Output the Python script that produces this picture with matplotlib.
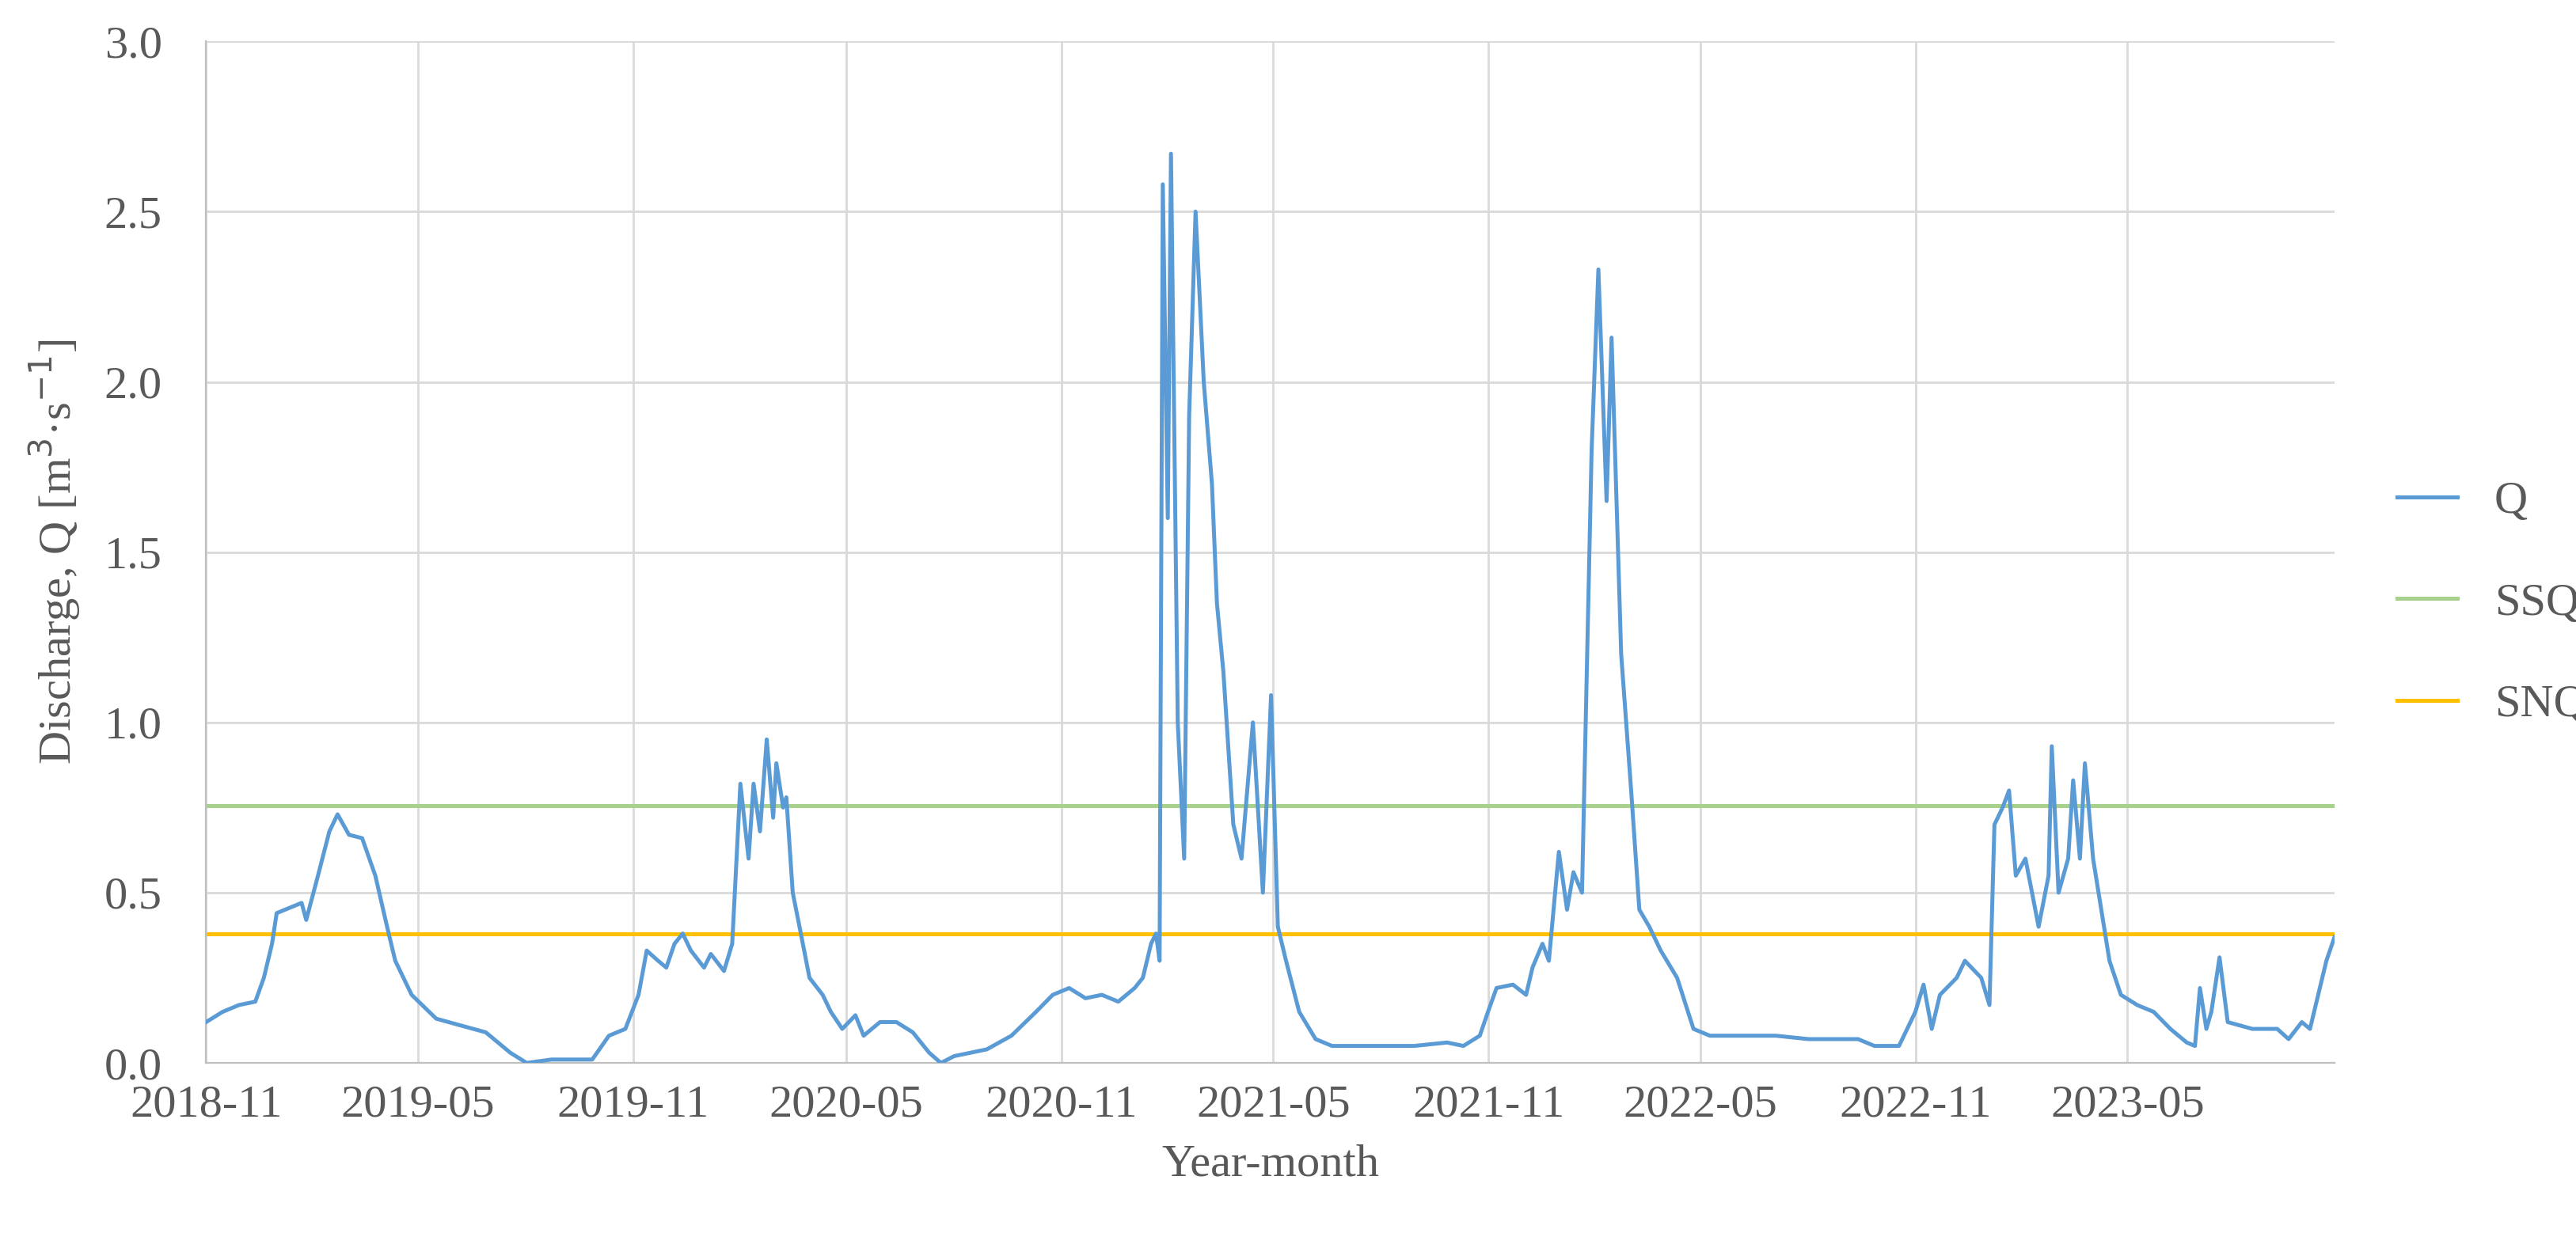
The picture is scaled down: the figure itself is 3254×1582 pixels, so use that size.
import matplotlib.pyplot as plt
import matplotlib.dates as mdates
import pandas as pd

plt.rcParams['font.family'] = ['Liberation Serif', 'DejaVu Serif']

# months since 2018-11-01 and discharge values
q_months = [0, 0.46, 0.92, 1.38, 1.62, 1.85, 1.98, 2.45, 2.68, 2.81, 3.14, 3.46, 3.69, 4.01, 4.38,
            4.75, 5.08, 5.31, 5.77, 6.46, 7.15, 7.85, 8.54, 9.0, 9.69, 10.84, 11.31, 11.77, 12.14,
            12.37, 12.69, 12.92, 13.15, 13.38, 13.61, 13.98, 14.17, 14.54, 14.77, 15.0, 15.23,
            15.37, 15.55, 15.74, 15.92, 16.01, 16.2, 16.29, 16.47, 16.66, 16.94, 17.31, 17.54,
            17.86, 18.23, 18.46, 18.92, 19.38, 19.84, 20.3, 20.63, 21.0, 21.92, 22.61, 23.3,
            23.77, 24.23, 24.69, 25.15, 25.61, 26.07, 26.3, 26.53, 26.67, 26.77, 26.86, 27.0,
            27.09, 27.28, 27.46, 27.6, 27.78, 28.01, 28.24, 28.38, 28.56, 28.84, 29.07, 29.39,
            29.67, 29.9, 30.09, 30.32, 30.69, 31.15, 31.61, 33.92, 34.84, 35.3, 35.76, 35.99,
            36.23, 36.69, 37.06, 37.24, 37.52, 37.7, 37.98, 38.21, 38.39, 38.63, 38.9, 39.09,
            39.32, 39.46, 39.73, 40.01, 40.24, 40.52, 40.84, 41.3, 41.76, 42.22, 44.07, 44.99,
            46.38, 46.84, 47.53, 47.76, 47.99, 48.22, 48.45, 48.68, 49.15, 49.38, 49.84, 50.07,
            50.21, 50.44, 50.62, 50.81, 51.08, 51.45, 51.73, 51.82, 52.01, 52.28, 52.42, 52.61,
            52.75, 52.98, 53.21, 53.44, 53.76, 54.22, 54.68, 55.15, 55.61, 55.84, 55.98, 56.16,
            56.3, 56.53, 56.76, 57.45, 58.15, 58.47, 58.84, 59.07, 59.53, 59.76]
q_values = [0.12, 0.15, 0.17, 0.18, 0.25, 0.35, 0.44, 0.46, 0.47, 0.42, 0.55, 0.68, 0.73, 0.67, 0.66,
            0.55, 0.40, 0.30, 0.20, 0.13, 0.11, 0.09, 0.03, 0.00, 0.01, 0.01, 0.08, 0.10, 0.20,
            0.33, 0.30, 0.28, 0.35, 0.38, 0.33, 0.28, 0.32, 0.27, 0.35, 0.82, 0.60,
            0.82, 0.68, 0.95, 0.72, 0.88, 0.75, 0.78, 0.50, 0.40, 0.25, 0.20, 0.15,
            0.10, 0.14, 0.08, 0.12, 0.12, 0.09, 0.03, 0.00, 0.02, 0.04, 0.08, 0.15,
            0.20, 0.22, 0.19, 0.20, 0.18, 0.22, 0.25, 0.35, 0.38, 0.30, 2.58, 1.60,
            2.67, 1.00, 0.60, 1.90, 2.50, 2.00, 1.70, 1.35, 1.15, 0.70, 0.60, 1.00,
            0.50, 1.08, 0.40, 0.30, 0.15, 0.07, 0.05, 0.05, 0.06, 0.05, 0.08, 0.15,
            0.22, 0.23, 0.20, 0.28, 0.35, 0.30, 0.62, 0.45, 0.56, 0.50, 1.80, 2.33,
            1.65, 2.13, 1.20, 0.80, 0.45, 0.40, 0.33, 0.25, 0.10, 0.08, 0.08, 0.07,
            0.07, 0.05, 0.05, 0.10, 0.15, 0.23, 0.10, 0.20, 0.25, 0.30, 0.25, 0.17,
            0.70, 0.75, 0.80, 0.55, 0.60, 0.40, 0.55, 0.93, 0.50, 0.60, 0.83, 0.60,
            0.88, 0.60, 0.45, 0.30, 0.20, 0.17, 0.15, 0.10, 0.06, 0.05, 0.22, 0.10,
            0.15, 0.31, 0.12, 0.10, 0.10, 0.07, 0.12, 0.10, 0.30, 0.37]
ssq = 0.755
snq = 0.38

start = pd.Timestamp('2018-11-01')
dates = [start + pd.Timedelta(days=m * 30.44) for m in q_months]

fig = plt.figure(figsize=(16.275, 7.91), dpi=200)
ax = fig.add_axes([0.080, 0.151, 0.826, 0.816])

ax.plot(dates, q_values, color='#5B9BD5', lw=1.8, label='Q', zorder=3)
ax.axhline(ssq, color='#A9D18E', lw=1.8, label='SSQ')
ax.axhline(snq, color='#FFC000', lw=1.8, label='SNQ')

ax.set_xlim(dates[0], dates[-1])
ax.set_ylim(0, 3.0)
ax.set_yticks([0, 0.5, 1.0, 1.5, 2.0, 2.5, 3.0])
ax.yaxis.set_major_formatter(plt.FormatStrFormatter('%.1f'))
ax.xaxis.set_major_locator(mdates.MonthLocator(bymonth=[5, 11]))
ax.xaxis.set_major_formatter(mdates.DateFormatter('%Y-%m'))

ax.grid(True, color='#D9D9D9', lw=1.0)
ax.set_axisbelow(True)
for s in ['top', 'right']:
    ax.spines[s].set_visible(False)
for s in ['left', 'bottom']:
    ax.spines[s].set_color('#BFBFBF')
ax.tick_params(length=0, labelsize=21, colors='#595959')
ax.tick_params(axis='y', pad=20)
ax.tick_params(axis='x', pad=10)

ax.set_xlabel('Year-month', fontsize=21, color='#595959', labelpad=8)
ax.set_ylabel('Discharge, Q [m$^3$·s$^{-1}$]', fontsize=21, color='#595959', labelpad=10)

leg = ax.legend(loc='center left', bbox_to_anchor=(1.01, 0.45), frameon=False,
                fontsize=21, handlelength=1.3, labelspacing=1.3)
for t in leg.get_texts():
    t.set_color('#595959')

fig.savefig('out.png', dpi=200)
